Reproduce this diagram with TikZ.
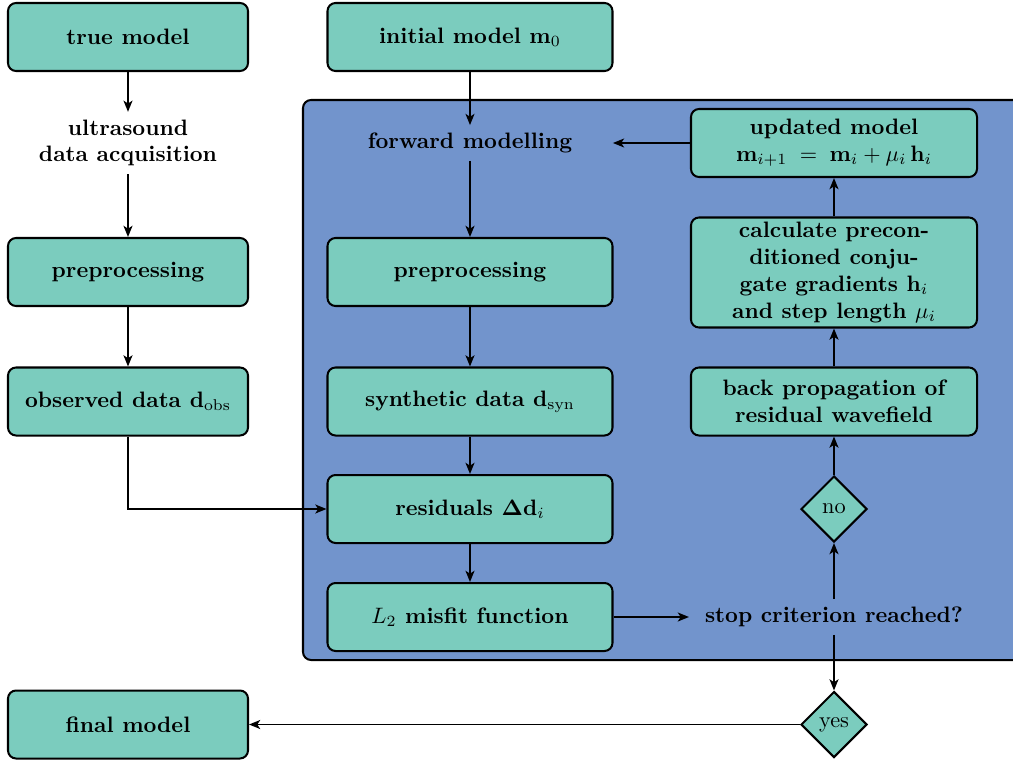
\documentclass[tikz,border=0pt]{standalone}
\usetikzlibrary{shapes.geometric,arrows.meta}
\definecolor{boxfill}{RGB}{123,204,190}
\definecolor{loopfill}{RGB}{114,148,204}
\begin{document}
\begin{tikzpicture}[x=0.448pt,y=-0.448pt,
 box/.style={draw=black, line width=0.9pt, fill=boxfill, rounded corners=3.6pt, font=\bfseries, align=center, minimum height=68*0.448pt, inner sep=2pt},
 lbox/.style={box, minimum width=240*0.448pt},
 mbox/.style={box, minimum width=285*0.448pt},
 rbox/.style={box, minimum width=286*0.448pt},
 plain/.style={font=\bfseries, align=center},
 dia/.style={diamond, draw=black, line width=0.9pt, fill=boxfill, aspect=1, inner sep=0pt, minimum width=66*0.448pt, minimum height=66*0.448pt},
 arr/.style={-{Stealth[length=5pt,width=4pt,inset=1.3pt]}, line width=0.85pt},
 loopbox/.style={draw=black, line width=0.9pt, fill=loopfill, rounded corners=3.6pt, inner sep=0pt, minimum width=737*0.448pt, minimum height=560*0.448pt}
]
\path[use as bounding box] (0,0) rectangle (1013,762);
\clip (0,0) rectangle (1013,762);

\node[loopbox] (loop) at (671.5,380) {};

\node[lbox] (true) at (128,37) {true model};
\node[mbox] (init) at (470,37) {initial model $\mathbf{m}_0$};
\node[plain] (acq) at (128,143) {ultrasound\\data acquisition};
\node[lbox] (pre1) at (128,272) {preprocessing};
\node[lbox] (obs) at (128,401.5) {observed data $\mathbf{d}_\mathrm{obs}$};
\node[lbox] (final) at (128,724.5) {final model};

\node[plain, minimum width=285*0.448pt] (fwd) at (470,143) {forward modelling};
\node[mbox] (pre2) at (470,272) {preprocessing};
\node[mbox] (syn) at (470,401.5) {synthetic data $\mathbf{d}_\mathrm{syn}$};
\node[mbox] (res) at (470,509) {residuals $\mathbf{\Delta d}_i$};
\node[mbox] (mis) at (470,617) {$L_2$ misfit function};
\node[plain, inner xsep=7pt] (stop) at (834,617) {stop criterion reached?};

\node[rbox] (upd) at (834,143) {updated model\\$\mathbf{m}_{i+1}\;=\;\mathbf{m}_i+\mu_i\,\mathbf{h}_i$};
\node[rbox, minimum height=110*0.448pt] (grad) at (834,272.5) {calculate precon-\\ditioned conju-\\gate gradients $\mathbf{h}_i$\\and step length $\mu_i$};
\node[rbox] (back) at (834,401.5) {back propagation of\\residual wavefield};
\node[dia] (no) at (834,509) {no};
\node[dia] (yes) at (834,724.5) {yes};

\draw[arr] (true) -- (acq);
\draw[arr] (acq) -- (pre1);
\draw[arr] (pre1) -- (obs);
\draw[arr] (obs.south) |- (res.west);
\draw[arr] (init) -- (fwd);
\draw[arr] (fwd) -- (pre2);
\draw[arr] (pre2) -- (syn);
\draw[arr] (syn) -- (res);
\draw[arr] (res) -- (mis);
\draw[arr] (mis) -- (stop);
\draw[arr] (stop) -- (no);
\draw[arr] (no) -- (back);
\draw[arr] (back) -- (grad);
\draw[arr] (grad) -- (upd);
\draw[arr] (upd) -- (fwd);
\draw[arr] (stop) -- (yes);
\draw[arr] (yes) -- (final);
\end{tikzpicture}
\end{document}
